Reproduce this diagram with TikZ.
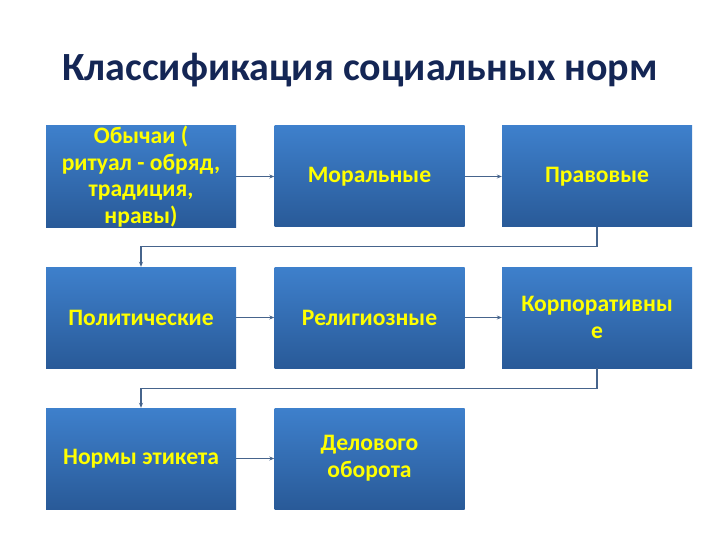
\documentclass[tikz,border=0pt]{standalone}
\usepackage{fontspec}
\setmainfont{Carlito}
\usetikzlibrary{arrows.meta}
\definecolor{boxtop}{RGB}{62,128,204}
\definecolor{boxbot}{RGB}{41,90,152}
\definecolor{titlec}{RGB}{20,38,85}
\definecolor{linec}{RGB}{70,100,140}
\definecolor{txt}{RGB}{255,255,0}
\begin{document}
\begin{tikzpicture}[x=1pt,y=-1pt,
  box/.style={minimum width=190pt,minimum height=101pt,inner sep=0pt,
    top color=boxtop,bottom color=boxbot,draw=none,
    text=txt,font=\fontsize{23.6}{26.8}\selectfont\bfseries,align=center},
  conn/.style={draw=linec,line width=1.1pt,-{Stealth[length=5pt,width=4pt]}}]
\useasboundingbox (0,0) rectangle (720,540);
\node[font=\fontsize{40}{46}\selectfont\bfseries,text=titlec] (title) at (360,70) {Классификация социальных норм};
\node[box] (b11) at (141,176.5) {Обычаи (\\ритуал - обряд,\\традиция,\\нравы)};
\node[box] (b12) at (369.5,176.5) {Моральные};
\node[box] (b13) at (597,176.5) {Правовые};
\node[box] (b21) at (141,317.5) {Политические};
\node[box] (b22) at (369.5,317.5) {Религиозные};
\node[box] (b23) at (597,317.5) {Корпоративны\\е};
\node[box] (b31) at (141,458.5) {Нормы этикета};
\node[box] (b32) at (369.5,458.5) {Делового\\оборота};
\draw[conn] (b11) -- (b12);
\draw[conn] (b12) -- (b13);
\draw[conn] (b21) -- (b22);
\draw[conn] (b22) -- (b23);
\draw[conn] (b31) -- (b32);
\draw[conn] (b13.south) -- ++(0,19.5) -| (b21.north);
\draw[conn] (b23.south) -- ++(0,20) -| (b31.north);
\end{tikzpicture}
\end{document}
